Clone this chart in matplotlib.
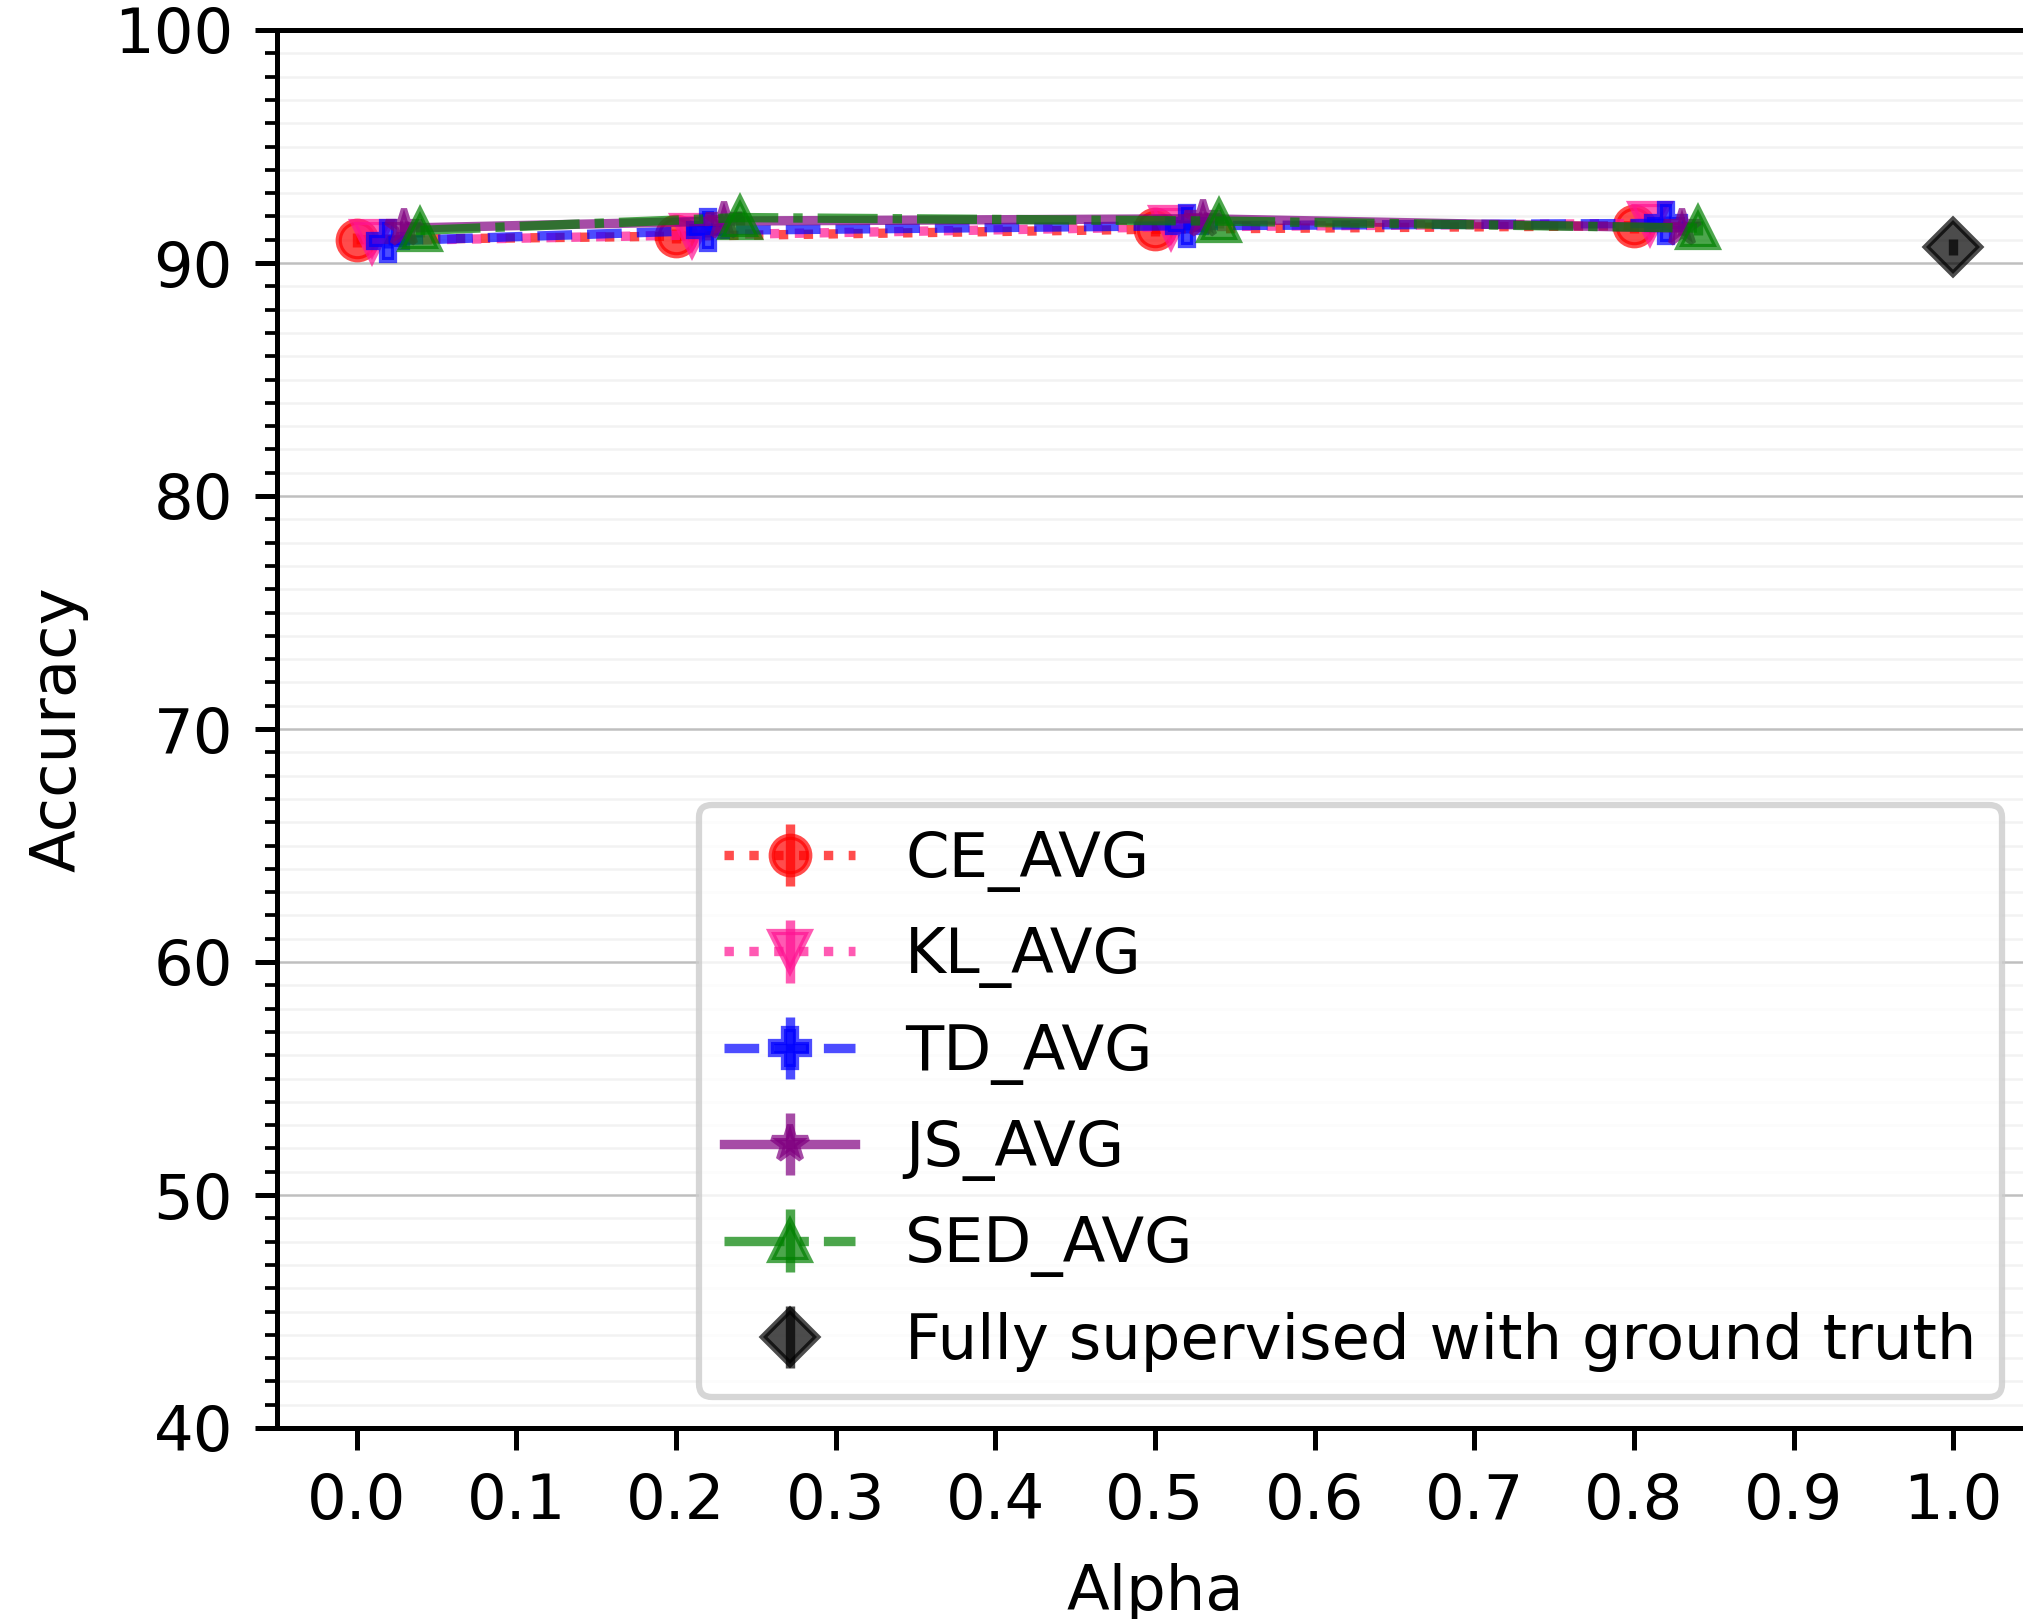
import matplotlib
matplotlib.use("Agg")
import matplotlib.pyplot as plt
from matplotlib.ticker import MultipleLocator

# ============================================================
# Data: accuracy vs alpha for each loss (means and std devs)
# ============================================================

alphas = [0.0, 0.2, 0.5, 0.8]
offsets = [0.0, 0.01, 0.02, 0.03, 0.04]   # small shift so the markers don't overlap

ce_avg = [91.0, 91.15, 91.45, 91.6]
kl_avg = [90.95, 91.2, 91.55, 91.7]
td_avg = [90.95, 91.4, 91.6, 91.7]
js_avg = [91.5, 91.8, 91.9, 91.5]
sed_avg = [91.4, 91.95, 91.8, 91.5]

ce_std = [0.3, 0.3, 0.3, 0.3]
kl_std = [0.3, 0.3, 0.3, 0.3]
td_std = [0.3, 0.3, 0.3, 0.3]
js_std = [0.3, 0.3, 0.3, 0.3]
sed_std = [0.3, 0.3, 0.3, 0.3]

# fully supervised reference point
full_alpha = [1.0]
full_acc = [90.67]
full_std = [0.34]

series = [
    ("CE_AVG", ce_avg, ce_std, "red", ":", "o"),
    ("KL_AVG", kl_avg, kl_std, "deeppink", ":", "v"),
    ("TD_AVG", td_avg, td_std, "blue", "--", "P"),
    ("JS_AVG", js_avg, js_std, "purple", "-", "*"),
    ("SED_AVG", sed_avg, sed_std, "green", "-.", "^"),
]

# ============================================================
# Plot
# ============================================================

DPI = 450
fig = plt.figure(figsize=(2023 / DPI, 1619 / DPI), dpi=DPI)
# axes run past the right edge, like the cropped original
ax = fig.add_axes([276.7 / 2023, 1 - 1428 / 1619, (2033 - 276.7) / 2023, (1428 - 30) / 1619])

for (label, vals, errs, color, ls, marker), off in zip(series, offsets):
    xs = [a + off for a in alphas]
    ax.errorbar(xs, vals, yerr=errs, color=color, linestyle=ls, marker=marker,
                alpha=0.7, label=label)

ax.errorbar(full_alpha, full_acc, yerr=full_std, color="black", marker="D",
            linestyle="none", alpha=0.7, label="Fully supervised with ground truth")

ax.set_xlim(-0.05, 1.05)
ax.set_ylim(40, 100)
ax.set_xticks([i / 10 for i in range(11)])
ax.yaxis.set_minor_locator(MultipleLocator(1))

ax.grid(True, which="major", axis="y", color="gray", alpha=0.5, linewidth=0.4)
ax.grid(True, which="minor", axis="y", color="gray", alpha=0.1, linewidth=0.4)

ax.set_xlabel("Alpha", labelpad=5)
ax.set_ylabel("Accuracy")
ax.legend(loc="lower right", fontsize=10, labelspacing=0.55, handlelength=2.1)

fig.savefig("out.png", dpi=DPI)
